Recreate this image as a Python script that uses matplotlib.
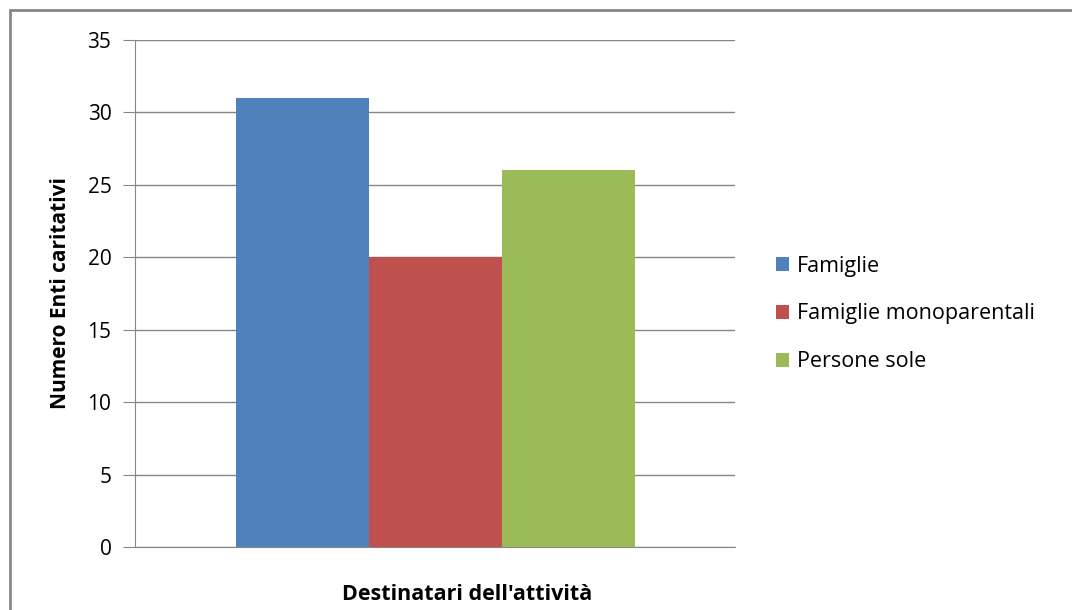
import matplotlib.pyplot as plt
from matplotlib.patches import Rectangle

series = ['Famiglie', 'Famiglie monoparentali', 'Persone sole']
values = [31, 20, 26]
colors = ['#4F81BD', '#C0504D', '#9BBB59']
yticks = [0, 5, 10, 15, 20, 25, 30, 35]

plt.rcParams['font.family'] = ['Open Sans', 'DejaVu Sans']

fig = plt.figure(figsize=(10.72, 6.10), dpi=100)
ax = fig.add_axes([135/1072, 63/610, 600/1072, 507/610])

w = 133/600
for i, (name, v, c) in enumerate(zip(series, values, colors)):
    ax.bar((i - 1)*w, v, width=w, color=c, label=name, zorder=3)

ax.set_xlim(-0.5, 0.5)
ax.set_ylim(0, 35)
ax.set_yticks(yticks)
ax.set_xticks([])
ax.tick_params(axis='y', length=9, color='#868686', labelsize=15, pad=8)
ax.grid(axis='y', color='#868686', linewidth=1, zorder=0)
for s in ['top', 'right']:
    ax.spines[s].set_visible(False)
ax.spines['left'].set_color('#868686')
ax.spines['bottom'].set_color('#868686')

ax.set_ylabel('Numero Enti caritativi', fontsize=15, fontweight='bold', labelpad=12)
ax.set_xlabel("Destinatari dell'attività", fontsize=15.5, fontweight='bold')
ax.xaxis.set_label_coords((467 - 135)/600, -37/507)

fig.legend(loc='center left', bbox_to_anchor=(757/1072, 1 - 314/610), frameon=False,
           fontsize=15.5, handlelength=0.6, handleheight=0.6, handletextpad=0.35,
           labelspacing=1.25)

fig.patches.append(Rectangle((10/1072, -0.1), 1.2, 1.1 - 10/610, transform=fig.transFigure,
                             fill=False, edgecolor='#888888', linewidth=2))

fig.savefig('out.png', dpi=100)
